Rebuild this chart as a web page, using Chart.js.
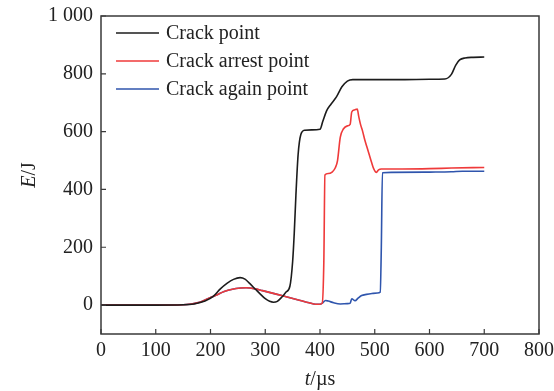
<!DOCTYPE html>
<html>
<head>
<meta charset="utf-8">
<script src="https://cdn.jsdelivr.net/npm/chart.js@4/dist/chart.umd.min.js"></script>
<style>
  html, body { margin: 0; padding: 0; background: #fff; }
  #wrap { width: 554px; height: 391px; }
</style>
</head>
<body>
<div id="wrap"><canvas id="c" width="554" height="391"></canvas></div>
<script>
// Energy curves E (J) against time t (µs) at three crack positions
const seriesNames = ['Crack point', 'Crack arrest point', 'Crack again point'];
const seriesColors = ['#1c1c1c', '#ef3a3a', '#2f55ad'];

const crackT = [0, 100, 150, 170, 190, 205, 218, 230, 242, 254, 263, 272, 282, 291, 300, 308, 315, 322, 330, 338, 345, 350, 353, 356, 360, 365, 372, 385, 400, 405, 412, 420, 430, 440, 450, 460, 500, 550, 600, 628, 640, 648, 655, 665, 680, 700];
const crackE = [0, 0, 1, 4, 14, 30, 56, 75, 89, 95, 90, 74, 55, 38, 22, 13, 10, 13, 27, 45, 65, 150, 250, 380, 520, 590, 605, 606, 608, 635, 672, 695, 720, 755, 775, 780, 780, 780, 781, 782, 798, 830, 848, 855, 857, 858];

const arrestT = [0, 100, 150, 165, 180, 195, 210, 225, 240, 255, 265, 280, 295, 320, 340, 364, 380, 392, 400, 404, 407, 409, 415, 422, 428, 432, 437, 443, 450, 455, 458, 463, 468, 471, 474, 478, 482, 486, 490, 494, 498, 503, 507, 512, 550, 600, 640, 700];
const arrestE = [0, 0, 1, 4, 10, 22, 34, 47, 55, 59, 60, 57, 50, 38, 28, 16, 8, 3, 3, 6, 150, 450, 455, 460, 475, 500, 580, 610, 620, 625, 668, 675, 678, 650, 625, 600, 570, 545, 520, 495, 472, 459, 468, 471, 471, 472, 474, 476];

const againT = [0, 100, 150, 165, 180, 195, 210, 225, 240, 255, 265, 280, 295, 320, 340, 364, 380, 392, 400, 405, 410, 415, 425, 437, 450, 455, 458, 464, 470, 476, 485, 495, 505, 510, 512, 514, 530, 600, 640, 660, 700];
const againE = [0, 0, 1, 4, 10, 22, 34, 47, 55, 59, 60, 57, 50, 38, 28, 16, 8, 3, 3, 8, 16, 14, 8, 4, 5, 6, 22, 15, 25, 33, 37, 40, 42, 45, 200, 458, 459, 460, 461, 463, 463];

const xTicks = [0, 100, 200, 300, 400, 500, 600, 700, 800];
const yTicks = [0, 200, 400, 600, 800, 1000];

const FONT = '"Liberation Serif", "Times New Roman", serif';
const AXIS_COLOR = '#3a3a3a';

function pts(ts, es) { return ts.map((t, i) => ({ x: t, y: es[i] })); }

function fmtThousands(v) {
  return String(v).replace(/\B(?=(\d{3})+(?!\d))/g, ' ');
}

// Frame, inward tick marks, axis titles and the in-plot legend
const decor = {
  id: 'decor',
  afterDraw(chart) {
    const ctx = chart.ctx;
    const a = chart.chartArea;
    const xs = chart.scales.x, ys = chart.scales.y;
    ctx.save();
    ctx.strokeStyle = AXIS_COLOR;
    ctx.lineWidth = 1.5;
    ctx.beginPath();
    ctx.rect(a.left, a.top, a.right - a.left, a.bottom - a.top);
    ctx.stroke();
    ctx.lineWidth = 1.2;
    ctx.beginPath();
    xTicks.forEach(v => {
      const px = xs.getPixelForValue(v);
      ctx.moveTo(px, a.bottom);
      ctx.lineTo(px, a.bottom - 5);
    });
    yTicks.forEach(v => {
      const py = ys.getPixelForValue(v);
      ctx.moveTo(a.left, py);
      ctx.lineTo(a.left + 5, py);
    });
    ctx.stroke();

    // axis titles: italic symbol followed by upright unit
    ctx.fillStyle = '#222';
    ctx.textBaseline = 'middle';
    ctx.textAlign = 'left';
    const drawTitle = (sym, unit, cx, cy, rot) => {
      ctx.save();
      ctx.translate(cx, cy);
      ctx.rotate(rot);
      ctx.font = 'italic 20px ' + FONT;
      const w1 = ctx.measureText(sym).width;
      ctx.font = '20px ' + FONT;
      const w2 = ctx.measureText(unit).width;
      const x0 = -(w1 + w2) / 2;
      ctx.font = 'italic 20px ' + FONT;
      ctx.fillText(sym, x0, 0);
      ctx.font = '20px ' + FONT;
      ctx.fillText(unit, x0 + w1, 0);
      ctx.restore();
    };
    drawTitle('t', '/\u00b5s', (a.left + a.right) / 2, 380, 0);
    drawTitle('E', '/J', 30, (a.top + a.bottom) / 2, -Math.PI / 2);

    // legend
    ctx.font = '20px ' + FONT;
    chart.data.datasets.forEach((ds, i) => {
      const y = a.top + 17 + i * 28;
      ctx.strokeStyle = ds.borderColor;
      ctx.lineWidth = 1.5;
      ctx.beginPath();
      ctx.moveTo(a.left + 15, y);
      ctx.lineTo(a.left + 58, y);
      ctx.stroke();
      ctx.fillStyle = '#222';
      ctx.fillText(ds.label, a.left + 65, y + 1);
    });
    ctx.restore();
  }
};

const series = [[crackT, crackE], [arrestT, arrestE], [againT, againE]];

new Chart(document.getElementById('c'), {
  type: 'line',
  data: {
    datasets: series.map(([t, e], i) => ({
      label: seriesNames[i],
      data: pts(t, e),
      borderColor: seriesColors[i],
      borderWidth: 1.6,
      pointRadius: 0,
      fill: false,
      cubicInterpolationMode: 'monotone'
    }))
  },
  options: {
    responsive: false,
    animation: false,
    layout: { padding: { top: 16, right: 15, left: 0, bottom: 0 } },
    plugins: { legend: { display: false }, tooltip: { enabled: false } },
    scales: {
      x: {
        type: 'linear',
        min: 0, max: 800,
        afterBuildTicks(scale) { scale.ticks = xTicks.map(v => ({ value: v })); },
        afterFit(scale) {
          scale.height = 57;
          scale.paddingLeft = 0;
          scale.paddingRight = 0;
        },
        grid: { display: false, drawTicks: false },
        border: { display: false },
        ticks: { color: '#222', font: { family: FONT, size: 20 }, padding: 5, maxRotation: 0, autoSkip: false }
      },
      y: {
        type: 'linear',
        min: -100, max: 1000,
        afterBuildTicks(scale) { scale.ticks = yTicks.map(v => ({ value: v })); },
        afterFit(scale) {
          scale.width = 101;
          scale.paddingTop = 0;
          scale.paddingBottom = 0;
        },
        grid: { display: false, drawTicks: false },
        border: { display: false },
        ticks: { color: '#222', font: { family: FONT, size: 20 }, padding: 8, autoSkip: false,
                 callback: v => fmtThousands(v) }
      }
    }
  },
  plugins: [decor]
});
</script>
</body>
</html>
